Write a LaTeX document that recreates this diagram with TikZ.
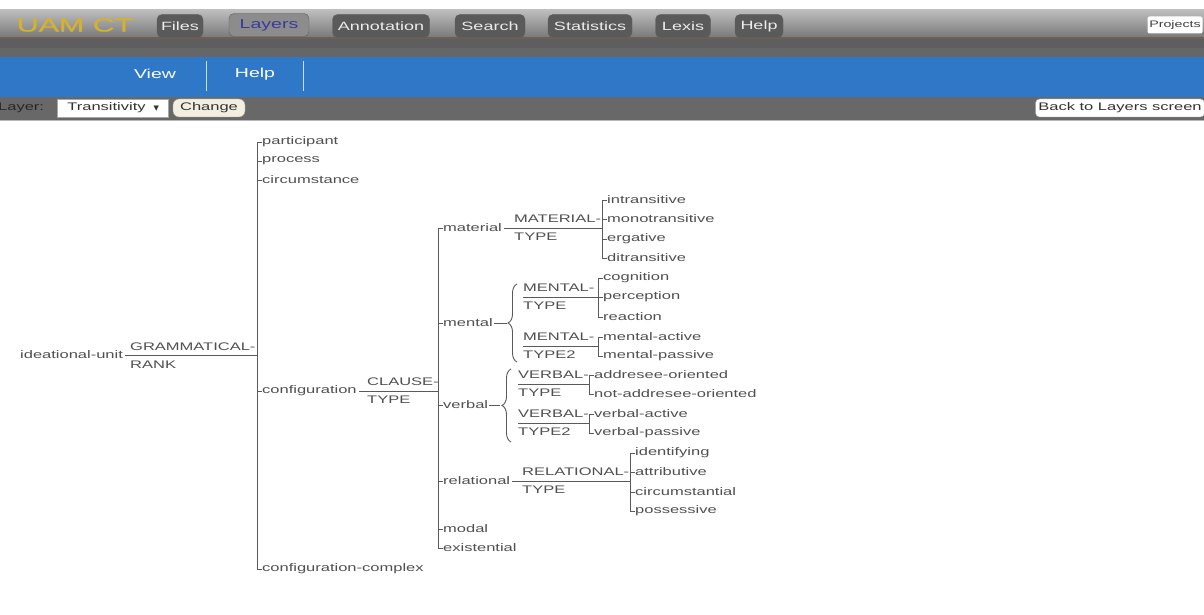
\documentclass[tikz,border=0pt]{standalone}
\usepackage{fontspec}
\setmainfont{Liberation Sans}
\newfontfamily\wf[FakeStretch=1.5]{Liberation Sans}
\newfontfamily\wfb[FakeStretch=1.6,FakeBold=1]{Liberation Sans}
\newfontfamily\djf{DejaVu Sans}
\usetikzlibrary{decorations.pathreplacing}
\definecolor{hdrtop}{HTML}{BDBDBD}
\definecolor{hdrbot}{HTML}{7A7A7A}
\definecolor{brn}{HTML}{6E5E55}
\definecolor{dkA}{HTML}{5E5E5E}
\definecolor{dkB}{HTML}{666666}
\definecolor{bbar}{HTML}{2F77C7}
\definecolor{dkC}{HTML}{686868}
\definecolor{gold}{HTML}{D4B22C}
\definecolor{tabfill}{HTML}{5A5A5A}
\definecolor{tabsel}{HTML}{8C8C8C}
\definecolor{seltext}{HTML}{3A3A9E}
\definecolor{txt}{HTML}{505050}
\definecolor{lnc}{HTML}{5A5A5A}
\definecolor{btn}{HTML}{F2EEE0}
\tikzset{
  lab/.style={anchor=west,inner sep=0pt,text=txt,font=\wf\fontsize{11}{12}\selectfont},
  ln/.style={draw=lnc,line width=0.9pt},
  tab/.style={rounded corners=5pt,fill=tabfill,draw=dkA,minimum height=23pt,inner sep=0pt,text=white!92!black,font=\wf\fontsize{12}{13}\selectfont},
  navtxt/.style={text=white,inner sep=0pt,font=\wf\fontsize{13}{14}\selectfont},
  sep/.style={draw=white!75!bbar,line width=0.8pt},
  whitebox/.style={fill=white,draw=gray!70,inner sep=0pt,minimum height=18pt,text=black!80,anchor=west,font=\wf\fontsize{11}{12}\selectfont},
  bracestyle/.style={ln,decorate,decoration={brace,amplitude=9pt,aspect=0.5}}
}
\begin{document}
\begin{tikzpicture}[x=1pt,y=-1pt]
\useasboundingbox (0,0) rectangle (1204,615);
\fill[white] (0,0) rectangle (1204,615);
% ---- header bars
\shade[top color=hdrtop,bottom color=hdrbot] (0,10) rectangle (1204,37);
\fill[brn] (0,37) rectangle (1204,39);
\fill[dkA] (0,39) rectangle (1204,48);
\fill[dkB] (0,48) rectangle (1204,57);
\fill[bbar] (0,57) rectangle (1204,97);
\fill[dkC] (0,97) rectangle (1204,120);
\draw[gray!55,line width=0.8pt] (0,120.5) -- (1204,120.5);
% ---- title and tabs
\node[text=gold,inner sep=0pt,font=\wfb\fontsize{19}{20}\selectfont] (title) at (75,25) {UAM CT};
\node[tab,minimum width=46pt] (tfiles) at (180,26) {Files};
\node[tab,minimum width=80pt,fill=tabsel,text=seltext,font=\wf\fontsize{13}{14}\selectfont] (tlayers) at (269,25) {Layers};
\node[tab,minimum width=97pt] (tannot) at (381,26) {Annotation};
\node[tab,minimum width=70pt] (tsearch) at (490,26) {Search};
\node[tab,minimum width=84pt] (tstats) at (590,26) {Statistics};
\node[tab,minimum width=55pt] (tlexis) at (683,26) {Lexis};
\node[tab,minimum width=48pt] (thelp) at (759,26) {Help};
\node[fill=white,rounded corners=2pt,inner sep=0pt,minimum width=55pt,minimum height=17pt,text=black!75,font=\wf\fontsize{9.5}{10}\selectfont] (proj) at (1175,25) {Projects};
% ---- blue menu
\node[navtxt] (view) at (155,74) {View};
\node[navtxt] (nhelp) at (255,74) {Help};
\draw[sep] (206,61) -- (206,91);
\draw[sep] (303,61) -- (303,91);
% ---- layer bar
\node[anchor=west,inner sep=0pt,text=black!85,font=\wf\fontsize{11}{12}\selectfont] (layerlbl) at (-2,108) {Layer:};
\node[whitebox,minimum width=111pt] (dd) at (57,108) {\hspace{1pt}Transitivity\hspace{8pt}{\djf\fontsize{7}{8}\selectfont ▼}};
\node[whitebox,minimum width=72pt,fill=btn,draw=brn!60,rounded corners=6pt,anchor=center] (chg) at (209,108) {Change};
\node[whitebox,minimum width=169pt,rounded corners=4pt,anchor=center] (back) at (1120,108) {Back to Layers screen};
% ---- tree level 0
\node[lab] (iu) at (20,355) {ideational-unit};
\node[lab] (gr1) at (130,347) {GRAMMATICAL-};
\node[lab] (gr2) at (130,365) {RANK};
\coordinate (b1) at (257,355);
\draw[ln] ([xshift=2pt]iu.east) -- (b1);
% level 1
\node[lab] (part) at (262,142) {participant};
\node[lab] (proc) at (262,161) {process};
\node[lab] (circ) at (262,180) {circumstance};
\node[lab] (conf) at (262,391) {configuration};
\node[lab] (cc) at (262,569) {configuration-complex};
\draw[ln] (b1 |- part.west) -- (b1 |- cc.west);
\foreach \n in {part,proc,circ,conf,cc} \draw[ln] (b1 |- \n.west) -- (\n.west);
% clause type
\node[lab] (ct1) at (367,382) {CLAUSE-};
\node[lab] (ct2) at (367,400) {TYPE};
\coordinate (b2) at (438,391);
\draw[ln] ([xshift=2pt]conf.east) -- (b2);
\node[lab] (mat) at (443,228) {material};
\node[lab] (ment) at (443,323) {mental};
\node[lab] (verb) at (443,405) {verbal};
\node[lab] (rel) at (443,481) {relational};
\node[lab] (modal) at (443,529) {modal};
\node[lab] (exist) at (443,548) {existential};
\draw[ln] (b2 |- mat.west) -- (b2 |- exist.west);
\foreach \n in {mat,ment,verb,rel,modal,exist} \draw[ln] (b2 |- \n.west) -- (\n.west);
% material
\node[lab] (mt1) at (514,219) {MATERIAL-};
\node[lab] (mt2) at (514,237) {TYPE};
\coordinate (b3) at (602,228);
\draw[ln] ([xshift=2pt]mat.east) -- (b3);
\node[lab] (intr) at (607,200) {intransitive};
\node[lab] (mono) at (607,219) {monotransitive};
\node[lab] (erg) at (607,239) {ergative};
\node[lab] (ditr) at (607,258) {ditransitive};
\draw[ln] (b3 |- intr.west) -- (b3 |- ditr.west);
\foreach \n in {intr,mono,erg,ditr} \draw[ln] (b3 |- \n.west) -- (\n.west);
% mental
\coordinate (mbr) at (507,323);
\draw[ln] ([xshift=1pt]ment.east) -- (mbr);
\draw[bracestyle] (517,362) -- (517,284);
\node[lab] (mn1) at (523,288) {MENTAL-};
\node[lab] (mn2) at (523,306) {TYPE};
\coordinate (b4s) at (523,297);
\coordinate (b4) at (598,297);
\draw[ln] (b4s) -- (b4);
\node[lab] (cogn) at (603,278) {cognition};
\node[lab] (perc) at (603,297) {perception};
\node[lab] (reac) at (603,317) {reaction};
\draw[ln] (b4 |- cogn.west) -- (b4 |- reac.west);
\foreach \n in {cogn,perc,reac} \draw[ln] (b4 |- \n.west) -- (\n.west);
\node[lab] (mm1) at (523,337) {MENTAL-};
\node[lab] (mm2) at (523,355) {TYPE2};
\coordinate (b5s) at (523,346);
\coordinate (b5) at (598,346);
\draw[ln] (b5s) -- (b5);
\node[lab] (mact) at (603,337) {mental-active};
\node[lab] (mpas) at (603,356) {mental-passive};
\draw[ln] (b5 |- mact.west) -- (b5 |- mpas.west);
\foreach \n in {mact,mpas} \draw[ln] (b5 |- \n.west) -- (\n.west);
% verbal
\coordinate (vbr) at (500,405);
\draw[ln] ([xshift=1pt]verb.east) -- (vbr);
\draw[bracestyle] (511,442) -- (511,369);
\node[lab] (vt1) at (518,375) {VERBAL-};
\node[lab] (vt2) at (518,393) {TYPE};
\coordinate (b6s) at (518,384);
\coordinate (b6) at (589,384);
\draw[ln] (b6s) -- (b6);
\node[lab] (addr) at (594,375) {addresee-oriented};
\node[lab] (naddr) at (594,394) {not-addresee-oriented};
\draw[ln] (b6 |- addr.west) -- (b6 |- naddr.west);
\foreach \n in {addr,naddr} \draw[ln] (b6 |- \n.west) -- (\n.west);
\node[lab] (vv1) at (518,414) {VERBAL-};
\node[lab] (vv2) at (518,432) {TYPE2};
\coordinate (b7s) at (518,423);
\coordinate (b7) at (589,423);
\draw[ln] (b7s) -- (b7);
\node[lab] (vact) at (594,414) {verbal-active};
\node[lab] (vpas) at (594,433) {verbal-passive};
\draw[ln] (b7 |- vact.west) -- (b7 |- vpas.west);
\foreach \n in {vact,vpas} \draw[ln] (b7 |- \n.west) -- (\n.west);
% relational
\node[lab] (rt1) at (522,472) {RELATIONAL-};
\node[lab] (rt2) at (522,490) {TYPE};
\coordinate (b8) at (630,481);
\draw[ln] ([xshift=2pt]rel.east) -- (b8);
\node[lab] (iden) at (635,453) {identifying};
\node[lab] (attr) at (635,472) {attributive};
\node[lab] (cstl) at (635,492) {circumstantial};
\node[lab] (poss) at (635,511) {possessive};
\draw[ln] (b8 |- iden.west) -- (b8 |- poss.west);
\foreach \n in {iden,attr,cstl,poss} \draw[ln] (b8 |- \n.west) -- (\n.west);
\end{tikzpicture}
\end{document}
